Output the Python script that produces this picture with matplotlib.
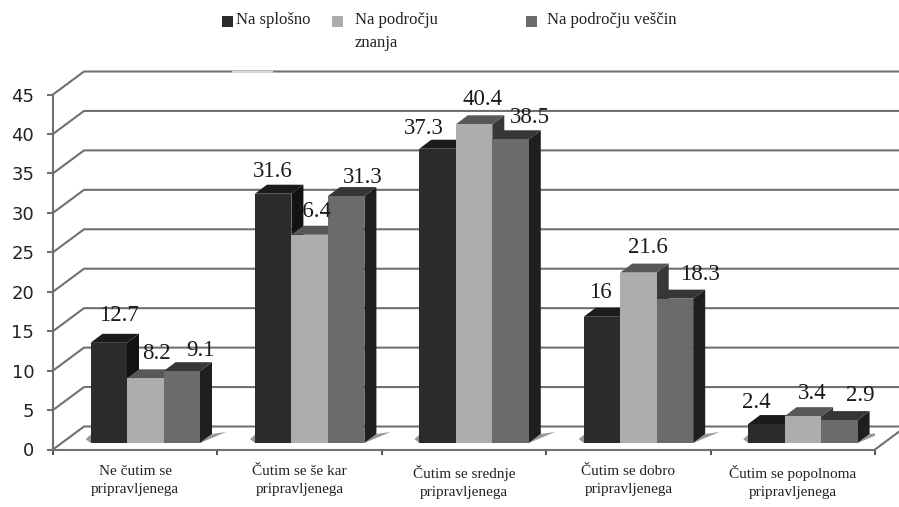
# Grouped pseudo-3D column chart, greyscale
import matplotlib
matplotlib.use("Agg")
import matplotlib.pyplot as plt
from matplotlib.patches import Rectangle

# Data
categories = ["Ne čutim se\npripravljenega", "Čutim se še kar\npripravljenega",
              "Čutim se srednje\npripravljenega", "Čutim se dobro\npripravljenega",
              "Čutim se popolnoma\npripravljenega"]
series_names = ["Na splošno", "Na področju\nznanja", "Na področju veščin"]
na_splosno = [12.7, 31.6, 37.3, 16, 2.4]
na_podrocju_znanja = [8.2, 26.4, 40.4, 21.6, 3.4]
na_podrocju_vescin = [9.1, 31.3, 38.5, 18.3, 2.9]
yticks = list(range(0, 50, 5))

# hand placed label shifts in pixels, one list per series (x, y above the bar face)
shift_a = [(10, 27), (0, 22), (-14, 20), (-2, 24), (-10, 22)]
shift_b = [(11, 25), (1, 23), (9, 25), (9, 25), (9, 23)]
shift_c = [(19, 21), (17, 19), (19, 22), (25, 24), (21, 25)]

# face, top, side colour of each series
colors = [("#2b2b2b", "#1b1b1b", "#121212"),
          ("#adadad", "#585858", "#383838"),
          ("#6b6b6b", "#363636", "#1f1f1f")]

W, H = 899, 507
x0, x1 = 53, 875      # pixel span of the x axis
y0, y45 = 449.5, 94.5  # pixel span of the y axis
fig = plt.figure(figsize=(W/100, H/100), dpi=100)
ax = fig.add_axes([x0/W, 1 - y0/H, (x1 - x0)/W, (y0 - y45)/H])
ax.set_xlim(0, 5)
ax.set_ylim(0, 45)
ax.patch.set_alpha(0)

# pixel -> data conversion for the fake depth
ux = (x1 - x0)/5
uy = (y0 - y45)/45
wall_dx, wall_dy = 31/ux, 23/uy
bar_dx, bar_dy = 12/ux, 9/uy
floor = 6.5/uy
bar_w = 36.5/ux
start = 37.5/ux
grid = "#707070"

# walls and floor
for t in yticks:
    ax.plot([0, wall_dx, 5.2], [t, t + wall_dy, t + wall_dy], color=grid, lw=1.5, clip_on=False, zorder=1)
ax.plot([5, 5 + wall_dx*0.8], [0, wall_dy*0.8], color=grid, lw=1.5, clip_on=False, zorder=1)
# pale break in the top line
ax.plot([(233 - x0)/ux, (272 - x0)/ux], [45 + wall_dy]*2, color="#d8d8d8", lw=1.6, clip_on=False, zorder=1.5)

# bars, left to right so each one covers the side of its neighbour
all_series = [na_splosno, na_podrocju_znanja, na_podrocju_vescin]
all_shift = [shift_a, shift_b, shift_c]
for i in range(len(categories)):
    # floor shadows either side of the group
    left = i + start
    right = left + 3*bar_w
    ax.fill([left - 0.03, left, left + 0.02], [floor + 0.5, floor, floor + 1.4], color="#555555", alpha=0.6, lw=0, zorder=2)
    ax.fill([right, right + 0.16, right + bar_dx], [floor, floor + 1.4, floor + bar_dy], color="#555555", alpha=0.6, lw=0, zorder=2)
    for j, vals in enumerate(all_series):
        v = vals[i]
        xl = left + j*bar_w
        xr = xl + bar_w
        top = floor + v
        z = 3 + i + j*0.1
        face, topc, side = colors[j]
        ax.fill([xr, xr + bar_dx, xr + bar_dx, xr],
                [floor, floor + bar_dy, top + bar_dy, top], color=side, lw=0, clip_on=False, zorder=z)
        ax.fill([xl, xl + bar_dx, xr + bar_dx, xr],
                [top, top + bar_dy, top + bar_dy, top], color=topc, lw=0, clip_on=False, zorder=z)
        ax.bar(xl, v, bar_w, bottom=floor, align="edge", color=face, lw=0, zorder=z)
        sx, sy = all_shift[j][i]
        ax.annotate(str(v), (xl + bar_w/2, top), xytext=(sx, sy), textcoords="offset pixels",
                    ha="center", va="center", fontsize=16.5, family="Liberation Serif",
                    color="#1a1a1a", zorder=20, annotation_clip=False)

# axes
for s in ["top", "right"]:
    ax.spines[s].set_visible(False)
for s in ["left", "bottom"]:
    ax.spines[s].set_color(grid)
    ax.spines[s].set_linewidth(1.5)
ax.set_yticks(yticks)
ax.tick_params(axis="y", length=4.5, width=1.5, color=grid, labelsize=13, pad=9, labelcolor="#222222")
ax.set_xticks(range(6))
ax.set_xticklabels([])
ax.tick_params(axis="x", which="major", length=3.5, width=1.2, color="#333333")
ax.set_xticks([i + 0.5 for i in range(5)], minor=True)
ax.set_xticklabels(categories, minor=True, family="Liberation Serif", fontsize=11, linespacing=1.5, color="#222222")
ax.tick_params(axis="x", which="minor", length=0, pad=11)

# legend, laid out by hand because of its odd wrapped entry
legend_box_x = [222, 332, 526]
legend_text_x = [236, 355, 547]
for name, bx, tx, c in zip(series_names, legend_box_x, legend_text_x, colors):
    fig.add_artist(Rectangle((bx/W, 1 - 27/H), 11/W, 11/H, transform=fig.transFigure, color=c[0], lw=0))
    fig.text(tx/W, 1 - 12/H, name, ha="left", va="top", family="Liberation Serif", fontsize=12,
             linespacing=1.55, color="#222222")

fig.savefig("out.png", dpi=100)
